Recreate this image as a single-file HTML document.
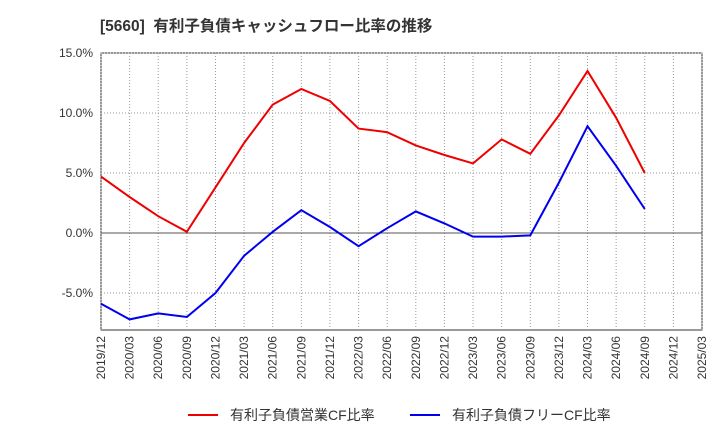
<!DOCTYPE html>
<html><head><meta charset="utf-8"><style>
body{margin:0;background:#fff;font-family:"Liberation Sans","Noto Sans CJK JP",sans-serif;}
</style></head><body>
<svg id="c" width="720" height="440" xmlns="http://www.w3.org/2000/svg"></svg>
<script>
const categories=["2019/12","2020/03","2020/06","2020/09","2020/12","2021/03","2021/06","2021/09","2021/12","2022/03","2022/06","2022/09","2022/12","2023/03","2023/06","2023/09","2023/12","2024/03","2024/06","2024/09","2024/12","2025/03"];
const opCF=[4.7,3.0,1.4,0.1,3.8,7.5,10.7,12.0,11.0,8.7,8.4,7.3,6.5,5.8,7.8,6.6,9.8,13.5,9.6,5.0];
const freeCF=[-5.9,-7.2,-6.7,-7.0,-5.0,-1.9,0.1,1.9,0.5,-1.1,0.4,1.8,0.8,-0.3,-0.3,-0.2,4.2,8.9,5.6,2.0];
const yTicks=[15,10,5,0,-5];
const yTickLabels=["15.0%","10.0%","5.0%","0.0%","-5.0%"];
const svg=document.getElementById('c');const NS='http://www.w3.org/2000/svg';
const L=101,R=702,T=53,B=330;
const x=i=>L+i*(R-L)/(categories.length-1);
const y=v=>233-v*12;
function el(t,a,p){const e=document.createElementNS(NS,t);for(const k in a)e.setAttribute(k,a[k]);(p||svg).appendChild(e);return e;}
const title=el('text',{x:100,y:31,'font-size':15.5,'font-weight':'bold',fill:'#333'});title.textContent='[5660]  有利子負債キャッシュフロー比率の推移';

title.setAttribute('xml:space','preserve');title.style.whiteSpace='pre';
el('rect',{x:L,y:T,width:R-L,height:B-T,fill:'#fff',stroke:'#333','stroke-width':1});
categories.forEach((c,i)=>{
 const g=el('line',{x1:x(i),x2:x(i),y1:T,y2:B,stroke:'#999','stroke-dasharray':'1,2'});
 
 const t=el('text',{x:0,y:0,'font-size':12,fill:'#333','text-anchor':'end',transform:`translate(${x(i)+4},${B+6}) rotate(-90)`});t.textContent=c;
 
});
yTicks.forEach((v,i)=>{
 const g=el('line',{x1:L,x2:R,y1:y(v),y2:y(v),stroke:v===0?'#555':'#999','stroke-dasharray':v===0?'':'1,2'});
 
 const t=el('text',{x:L-8,y:y(v)+4,'font-size':12,fill:'#333','text-anchor':'end'});t.textContent=yTickLabels[i];
 
});
function line(d,col,name){const p=el('polyline',{points:d.map((v,i)=>x(i)+','+y(v)).join(' '),fill:'none',stroke:col,'stroke-width':2});
 }
line(opCF,'#e00','operating-cf-line');line(freeCF,'#00e','free-cf-line');
function leg(x0,col,txt,name){const g=el('g',{});
 el('line',{x1:x0,x2:x0+30,y1:415,y2:415,stroke:col,'stroke-width':2},g);
 const t=el('text',{x:x0+42,y:420,'font-size':14,fill:'#333'},g);t.textContent=txt;}
leg(188,'#e00','有利子負債営業CF比率','legend-operating-cf');
leg(410,'#00e','有利子負債フリーCF比率','legend-free-cf');
</script></body></html>
